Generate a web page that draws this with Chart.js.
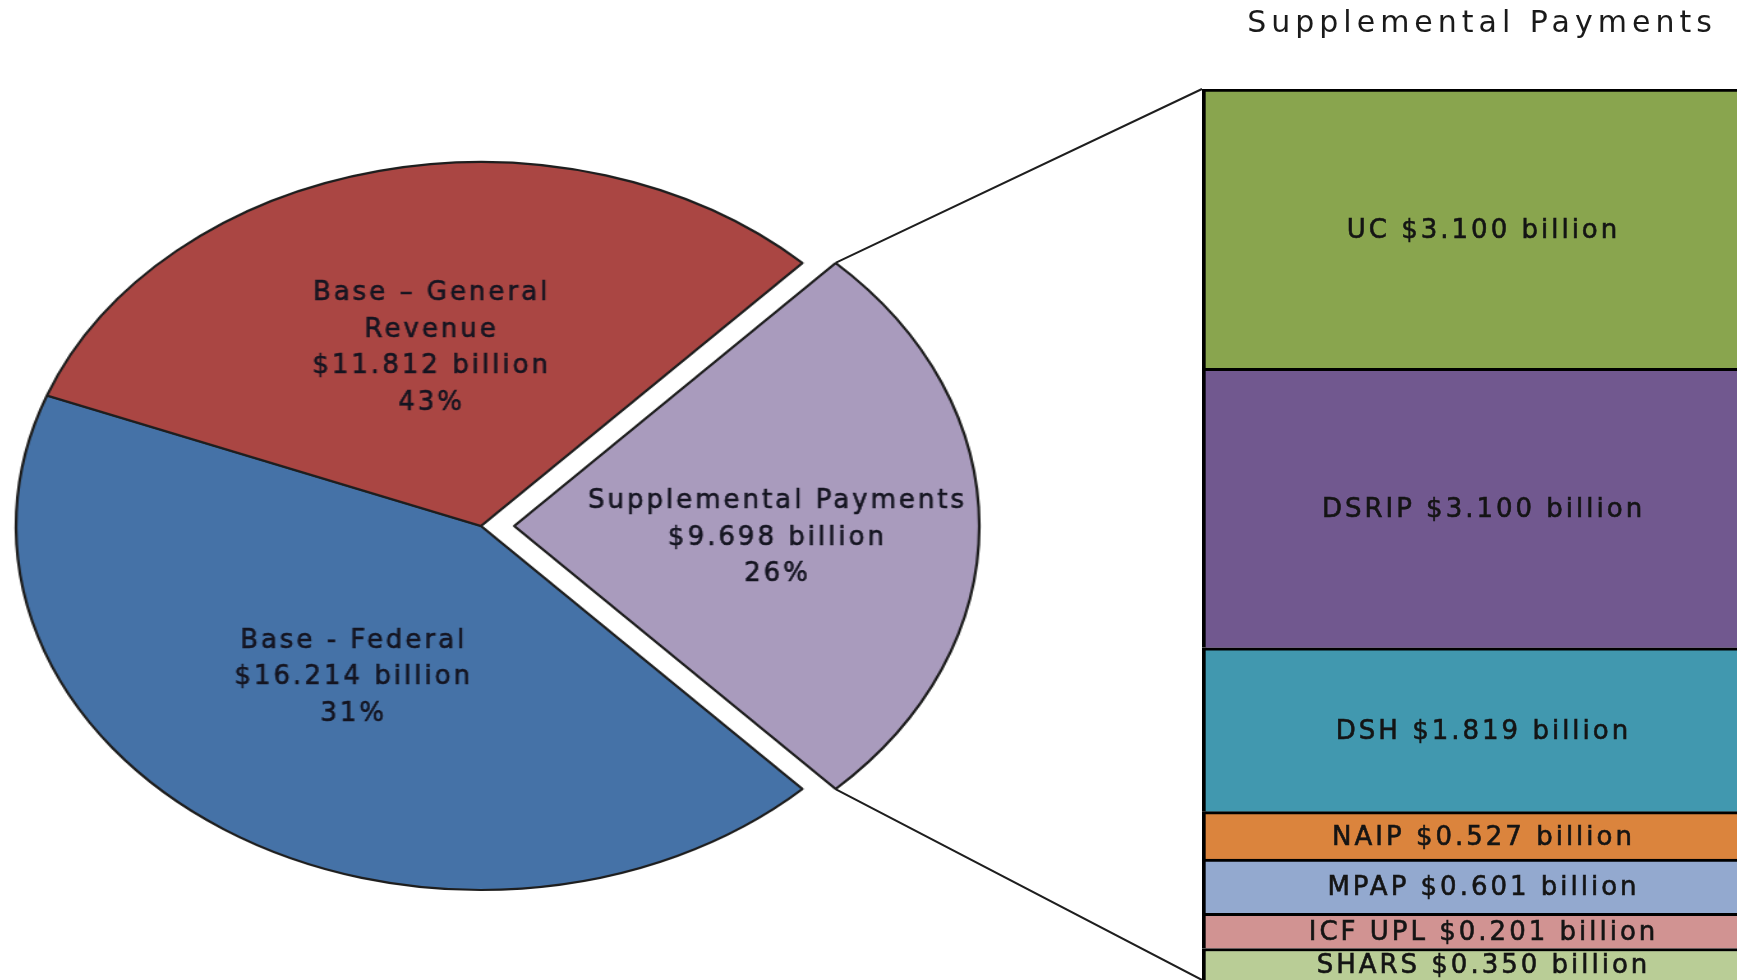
<!DOCTYPE html>
<html>
<head>
<meta charset="utf-8">
<script src="https://cdn.jsdelivr.net/npm/chart.js@4.4.1/dist/chart.umd.min.js"></script>
<style>
  html, body { margin: 0; padding: 0; background: #fff; }
  body { width: 1737px; height: 980px; position: relative; overflow: hidden; }
  #pieChart { position: absolute; top: 146px; }
  #barChart { position: absolute; left: 1192px; top: 0; width: 570px; height: 980px; }
  #leaders { position: absolute; left: 0; top: 0; pointer-events: none; }
</style>
</head>
<body>
<canvas id="pieChart" width="800" height="760"></canvas>
<canvas id="barChart" width="570" height="980"></canvas>
<canvas id="leaders" width="1737" height="980"></canvas>
<script>
// pie: split of the total, $ billion (percent labels kept as printed)
const pieLabels = ['Supplemental Payments', 'Base - Federal', ['Base \u2013 General', 'Revenue']];
const pieValues = [9.698, 16.214, 11.812];
const piePercents = ['26%', '31%', '43%'];
const pieColors = ['#A99BBD', '#4572A7', '#AA4643'];

// supplemental payments breakdown, top to bottom
const barCategories = ['UC', 'DSRIP', 'DSH', 'NAIP', 'MPAP', 'ICF UPL', 'SHARS'];
const barAmounts = [3.100, 3.100, 1.819, 0.527, 0.601, 0.201, 0.350];
// band heights as drawn in the picture (the ICF UPL band is drawn taller than its label)
const barHeights = [3.100, 3.100, 1.819, 0.527, 0.601, 0.39, 0.350];
const barColors = ['#89A54E', '#71588F', '#4198AF', '#DB843D', '#93A9CF', '#D19392', '#B9CD96'];

const FONT = '"DejaVu Sans", sans-serif';
const SX = 1.277;          // pie is drawn as a circle and stretched into an ellipse
const PIE_CX = 481;        // page x of the pie centre
const EXPLODE = 26;        // px the supplemental slice is pulled out
const labelRadius = [0.563, 0.5, 0.5];
const labelNudgeY = [12, 0, 0];

const pieCanvas = document.getElementById('pieChart');
pieCanvas.style.width = (pieCanvas.width * SX) + 'px';
pieCanvas.style.height = pieCanvas.height + 'px';
pieCanvas.style.left = (PIE_CX - pieCanvas.width * SX / 2) + 'px';

const total = pieValues.reduce((a, b) => a + b, 0);
const offDiv = parseInt(Chart.version) >= 4 ? 4 : 1;

function sliceOrigin(arc, i) {
  const mid = (arc.startAngle + arc.endAngle) / 2;
  const off = i === 0 ? EXPLODE : 0;
  return [arc.x + Math.cos(mid) * off, arc.y + Math.sin(mid) * off, mid];
}

function heavyText(ctx, t, x, y) {
  ctx.strokeText(t, x, y);
  ctx.fillText(t, x, y);
}

const pieLabelPlugin = {
  id: 'pieLabels',
  afterDatasetsDraw(chart) {
    const ctx = chart.ctx;
    chart.getDatasetMeta(0).data.forEach((arc, i) => {
      const [ox, oy, mid] = sliceOrigin(arc, i);
      const r = arc.outerRadius * labelRadius[i];
      const cx = ox + Math.cos(mid) * r;
      const cy = oy + Math.sin(mid) * r + labelNudgeY[i];
      const name = Array.isArray(pieLabels[i]) ? pieLabels[i] : [pieLabels[i]];
      const lines = name.concat(['$' + pieValues[i].toFixed(3) + ' billion', piePercents[i]]);
      ctx.save();
      ctx.translate(cx, cy);
      ctx.scale(1 / SX, 1);
      ctx.font = '26px ' + FONT;
      ctx.letterSpacing = '3px';
      ctx.fillStyle = '#141420';
      ctx.strokeStyle = '#141420';
      ctx.lineWidth = 0.6;
      ctx.textAlign = 'center';
      ctx.textBaseline = 'middle';
      const lh = 36.6;
      lines.forEach((t, k) => heavyText(ctx, t, 1.5, (k - (lines.length - 1) / 2) * lh));
      ctx.restore();
    });
  }
};

const pie = new Chart(pieCanvas, {
  type: 'pie',
  data: {
    labels: pieLabels,
    datasets: [{
      data: pieValues,
      backgroundColor: pieColors,
      borderColor: '#1e1e1e',
      borderWidth: 2.2,
      offset: pieValues.map((v, i) => i === 0 ? EXPLODE * offDiv : 0)
    }]
  },
  options: {
    responsive: false,
    animation: false,
    devicePixelRatio: 1,
    events: [],
    radius: 364,
    rotation: 90 - 180 * pieValues[0] / total,
    plugins: { legend: { display: false }, tooltip: { enabled: false } }
  },
  plugins: [pieLabelPlugin]
});

const titleSpacing = {
  id: 'titleSpacing',
  beforeDraw(chart) { chart.ctx.letterSpacing = '5px'; },
  afterDraw(chart) { chart.ctx.letterSpacing = '0px'; }
};

const barLabelPlugin = {
  id: 'barLabels',
  afterDatasetsDraw(chart) {
    const ctx = chart.ctx;
    ctx.save();
    ctx.font = '26px ' + FONT;
    ctx.letterSpacing = '3px';
    ctx.fillStyle = '#141414';
    ctx.strokeStyle = '#141414';
    ctx.lineWidth = 0.6;
    ctx.textAlign = 'center';
    ctx.textBaseline = 'middle';
    chart.data.datasets.forEach((ds, d) => {
      const el = chart.getDatasetMeta(d).data[0];
      const i = barCategories.indexOf(ds.label);
      const text = ds.label + ' $' + barAmounts[i].toFixed(3) + ' billion';
      heavyText(ctx, text, el.x + 1.5, (el.y + 3 + el.base) / 2 + 1);
    });
    ctx.restore();
  }
};

const barTotal = barHeights.reduce((a, b) => a + b, 0);
const barDatasets = barCategories.map((c, i) => ({
  label: c,
  data: [barHeights[i]],
  backgroundColor: barColors[i],
  borderColor: '#000',
  borderWidth: { top: 3, left: 4, right: 4, bottom: 0 },
  borderSkipped: false,
  barPercentage: 1,
  categoryPercentage: 1
})).reverse();

const barCanvas = document.getElementById('barChart');
const bar = new Chart(barCanvas, {
  type: 'bar',
  data: { labels: ['Supplemental Payments'], datasets: barDatasets },
  options: {
    responsive: false,
    animation: false,
    devicePixelRatio: 1,
    events: [],
    layout: { padding: { left: 10, right: 0, top: 0, bottom: 0 } },
    scales: {
      x: { stacked: true, display: false },
      y: { stacked: true, display: false, min: 0, max: barTotal }
    },
    plugins: {
      legend: { display: false },
      tooltip: { enabled: false },
      title: {
        display: true,
        text: 'Supplemental Payments',
        color: '#1a1a1a',
        font: { family: FONT, size: 30, weight: 'normal', lineHeight: 1.2 },
        padding: { top: 6, bottom: 47 }
      }
    }
  },
  plugins: [titleSpacing, barLabelPlugin]
});

// leader lines from the pulled-out slice to the stacked bar
const lc = document.getElementById('leaders').getContext('2d');
const pr = pieCanvas.getBoundingClientRect();
const br = barCanvas.getBoundingClientRect();
const arc = pie.getDatasetMeta(0).data[0];
const [ox, oy] = sliceOrigin(arc, 0);
const R = arc.outerRadius;
const toPage = (x, y) => [pr.left + x * SX, pr.top + y];
const cornerTop = toPage(ox + Math.cos(arc.startAngle) * R, oy + Math.sin(arc.startAngle) * R);
const cornerBot = toPage(ox + Math.cos(arc.endAngle) * R, oy + Math.sin(arc.endAngle) * R);
const topEl = bar.getDatasetMeta(barDatasets.length - 1).data[0];
const botEl = bar.getDatasetMeta(0).data[0];
const barTop = [br.left + topEl.x - topEl.width / 2, br.top + topEl.y];
const barBot = [br.left + botEl.x - botEl.width / 2, br.top + botEl.base];
lc.strokeStyle = '#1e1e1e';
lc.lineWidth = 2;
lc.beginPath();
lc.moveTo(cornerTop[0], cornerTop[1]);
lc.lineTo(barTop[0], barTop[1]);
lc.moveTo(cornerBot[0], cornerBot[1]);
lc.lineTo(barBot[0], barBot[1]);
lc.stroke();
</script>
</body>
</html>
